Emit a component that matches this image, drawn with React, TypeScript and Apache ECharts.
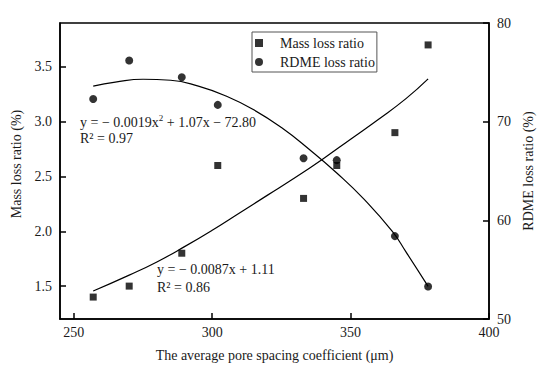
import React, { useEffect, useRef } from "react";
import * as echarts from "echarts";

const xValues = [257, 270, 289, 302, 333, 345, 366, 378];
const massLoss = [1.4, 1.5, 1.8, 2.6, 2.3, 2.6, 2.9, 3.7];
const rdmeLoss = [72.3, 76.2, 74.5, 71.7, 66.3, 66.1, 58.4, 53.3];

const massFitX = [257, 270, 280, 290, 300, 310, 320, 330, 340, 350, 360, 370, 378];
const massFitY = [1.455, 1.6, 1.72, 1.86, 2.01, 2.17, 2.33, 2.49, 2.66, 2.84, 3.02, 3.21, 3.39];

const rdmeFitX = [257, 265, 275, 285, 295, 305, 315, 325, 335, 345, 355, 365, 370, 378];
const rdmeFitY = [73.6, 74.0, 74.3, 74.2, 73.6, 72.6, 71.2, 69.4, 67.2, 64.8, 62.1, 58.9, 56.8, 53.3];

const xTicks = [250, 300, 350, 400];
const leftTicks = [1.5, 2.0, 2.5, 3.0, 3.5];

const FONT = "'Liberation Serif', 'Times New Roman', serif";
const TXT = "#1a1a1a";

export default function App() {
  const ref = useRef<HTMLDivElement>(null);
  useEffect(() => {
    if (!ref.current) return;
    const chart = echarts.init(ref.current, undefined, { renderer: "svg" });
    const axisCommon = {
      axisLine: { show: true, lineStyle: { color: "#000", width: 1.5 } },
      splitLine: { show: false },
      axisLabel: { fontFamily: FONT, fontSize: 14, color: TXT },
      nameTextStyle: { fontFamily: FONT, fontSize: 14, color: TXT },
    };
    chart.setOption({
      animation: false,
      backgroundColor: "#fff",
      grid: {
        left: 60,
        right: 61,
        top: 23,
        bottom: 57,
        show: true,
        borderColor: "#000",
        borderWidth: 1.5,
      },
      legend: {
        orient: "vertical",
        left: 252,
        top: 32,
        padding: [4, 2, 3, 3],
        itemGap: 5,
        itemWidth: 32,
        itemHeight: 8,
        borderColor: "#555",
        borderWidth: 1,
        textStyle: { fontFamily: FONT, fontSize: 14, color: TXT },
        data: [
          { name: "Mass loss ratio", icon: "path://M0,0H10V10H0Z" },
          {
            name: "RDME loss ratio",
            icon: "path://M0,5A5,5 0 1,0 10,5A5,5 0 1,0 0,5Z",
          },
        ],
      },
      xAxis: {
        type: "value",
        min: 245,
        max: 400,
        name: "The average pore spacing coefficient (μm)",
        nameLocation: "middle",
        nameGap: 29,
        ...axisCommon,
        axisTick: { show: true, inside: true, length: 6, lineStyle: { color: "#000", width: 1.5 }, customValues: xTicks },
        axisLabel: { ...axisCommon.axisLabel, margin: 6, customValues: xTicks },
      },
      yAxis: [
        {
          type: "value",
          min: 1.2,
          max: 3.9,
          name: "Mass loss ratio (%)",
          nameLocation: "middle",
          nameGap: 34,
          ...axisCommon,
          nameTextStyle: { ...axisCommon.nameTextStyle, padding: [0, 0, 0, 14] },
          axisTick: { show: true, inside: true, length: 6, lineStyle: { color: "#000", width: 1.5 }, customValues: leftTicks },
          axisLabel: {
            ...axisCommon.axisLabel,
            margin: 8,
            customValues: leftTicks,
            formatter: (v: number) => v.toFixed(1),
          },
        },
        {
          type: "value",
          position: "right",
          min: 50,
          max: 80,
          interval: 10,
          name: "RDME loss ratio (%)",
          nameLocation: "middle",
          nameGap: 32,
          ...axisCommon,
          axisTick: { show: true, inside: true, length: 6, lineStyle: { color: "#000", width: 1.5 } },
          axisLabel: { ...axisCommon.axisLabel, margin: 8 },
        },
      ],
      series: [
        {
          name: "Mass fit",
          type: "line",
          yAxisIndex: 0,
          data: massFitX.map((x, i) => [x, massFitY[i]]),
          showSymbol: false,
          smooth: true,
          lineStyle: { color: "#000", width: 1.2 },
          silent: true,
        },
        {
          name: "RDME fit",
          type: "line",
          yAxisIndex: 1,
          data: rdmeFitX.map((x, i) => [x, rdmeFitY[i]]),
          showSymbol: false,
          smooth: true,
          lineStyle: { color: "#000", width: 1.2 },
          silent: true,
        },
        {
          name: "Mass loss ratio",
          type: "scatter",
          yAxisIndex: 0,
          symbol: "rect",
          symbolSize: 7,
          itemStyle: { color: "#000" },
          data: xValues.map((x, i) => [x, massLoss[i]]),
        },
        {
          name: "RDME loss ratio",
          type: "scatter",
          yAxisIndex: 1,
          symbol: "circle",
          symbolSize: 8,
          itemStyle: { color: "#000" },
          data: xValues.map((x, i) => [x, rdmeLoss[i]]),
        },
      ],
      graphic: [
        {
          type: "text",
          x: 80,
          y: 122,
          style: {
            text: "y = − 0.0019x{sup|2} + 1.07x − 72.80",
            fontFamily: FONT,
            fontSize: 14,
            fill: TXT,
            verticalAlign: "middle",
            rich: { sup: { fontFamily: FONT, fontSize: 9, fill: TXT, verticalAlign: "bottom", padding: [0, 0, 8, 0] } },
          },
        },
        {
          type: "text",
          x: 80,
          y: 138,
          style: { text: "R² = 0.97", fontFamily: FONT, fontSize: 14, fill: TXT, verticalAlign: "middle" },
        },
        {
          type: "text",
          x: 157,
          y: 269,
          style: { text: "y = − 0.0087x + 1.11", fontFamily: FONT, fontSize: 14, fill: TXT, verticalAlign: "middle" },
        },
        {
          type: "text",
          x: 157,
          y: 287,
          style: { text: "R² = 0.86", fontFamily: FONT, fontSize: 14, fill: TXT, verticalAlign: "middle" },
        },
      ],
    });
    return () => chart.dispose();
  }, []);
  return (
    <div
      ref={ref}
      style={{ position: "fixed", left: 0, top: 0, width: 550, height: 376, background: "#fff" }}
    />
  );
}
